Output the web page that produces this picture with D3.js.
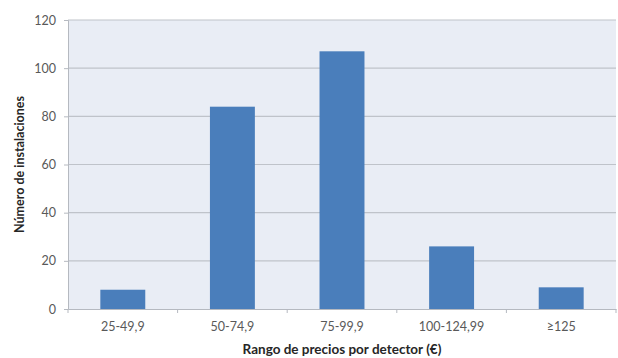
<!DOCTYPE html>
<html>
<head>
<meta charset="utf-8">
<script src="https://cdn.jsdelivr.net/npm/d3@7"></script>
<style>
  html, body { margin: 0; padding: 0; background: #fff; }
  svg text { font-family: Lato, "Open Sans", "Liberation Sans", sans-serif; }
</style>
</head>
<body>
<svg id="chart" width="618" height="358"></svg>
<script>
// Installations per price range per detector
const categories = ["25-49,9", "50-74,9", "75-99,9", "100-124,99", "\u2265125"];
const installations = [8, 84, 107, 26, 9];
const yTicks = [0, 20, 40, 60, 80, 100, 120];
const xTitle = "Rango de precios por detector (\u20ac)";
const yTitle = "Número de instalaciones";

const svg = d3.select("#chart");
const margin = { top: 20, right: 2, bottom: 49, left: 68 };
const W = 618, H = 358;
const iw = W - margin.left - margin.right;
const ih = H - margin.top - margin.bottom;

const g = svg.append("g").attr("transform", `translate(${margin.left},${margin.top})`);

const x = d3.scaleBand().domain(categories).range([0, iw]).paddingInner(0.59).paddingOuter(0.295);
const y = d3.scaleLinear().domain([0, 120]).range([ih, 0]);

// plot background
g.append("rect").attr("width", iw).attr("height", ih).attr("fill", "#e9edf5");

// horizontal gridlines
g.append("g").selectAll("line").data(yTicks.filter(d => d > 0)).join("line")
  .attr("x1", 0).attr("x2", iw)
  .attr("y1", d => y(d)).attr("y2", d => y(d))
  .attr("stroke", "#bfc3ca").attr("stroke-width", 1.2);

// bars
g.append("g").selectAll("rect").data(categories).join("rect")
  .attr("x", d => x(d))
  .attr("width", x.bandwidth())
  .attr("y", (d, i) => y(installations[i]))
  .attr("height", (d, i) => ih - y(installations[i]))
  .attr("fill", "#4a7ebb");

// y axis
const yAxis = g.append("g").call(d3.axisLeft(y).tickValues(yTicks).tickSize(4).tickPadding(8));
yAxis.select(".domain").attr("stroke", "#b5b9c0");
yAxis.selectAll(".tick line").attr("stroke", "#b5b9c0");
yAxis.selectAll("text").attr("fill", "#595959").attr("font-size", 12.5);

// x axis with ticks between categories
const xAxis = g.append("g").attr("transform", `translate(0,${ih})`)
  .call(d3.axisBottom(x).tickSize(0).tickPadding(13));
xAxis.select(".domain").attr("stroke", "#b5b9c0");
xAxis.selectAll("text").attr("fill", "#595959").attr("font-size", 12.5);
g.append("g").selectAll("line").data(d3.range(categories.length + 1)).join("line")
  .attr("x1", i => i * iw / categories.length).attr("x2", i => i * iw / categories.length)
  .attr("y1", ih).attr("y2", ih + 4)
  .attr("stroke", "#b5b9c0");

// axis titles
svg.append("text")
  .attr("x", margin.left + iw / 2).attr("y", 354)
  .attr("text-anchor", "middle")
  .attr("font-size", 13.5).attr("font-weight", "bold").attr("fill", "#262626")
  .text(xTitle);
svg.append("text")
  .attr("transform", `translate(24,${margin.top + ih / 2}) rotate(-90)`)
  .attr("text-anchor", "middle")
  .attr("font-size", 12.5).attr("font-weight", "bold").attr("fill", "#262626")
  .text(yTitle);
</script>
</body>
</html>
